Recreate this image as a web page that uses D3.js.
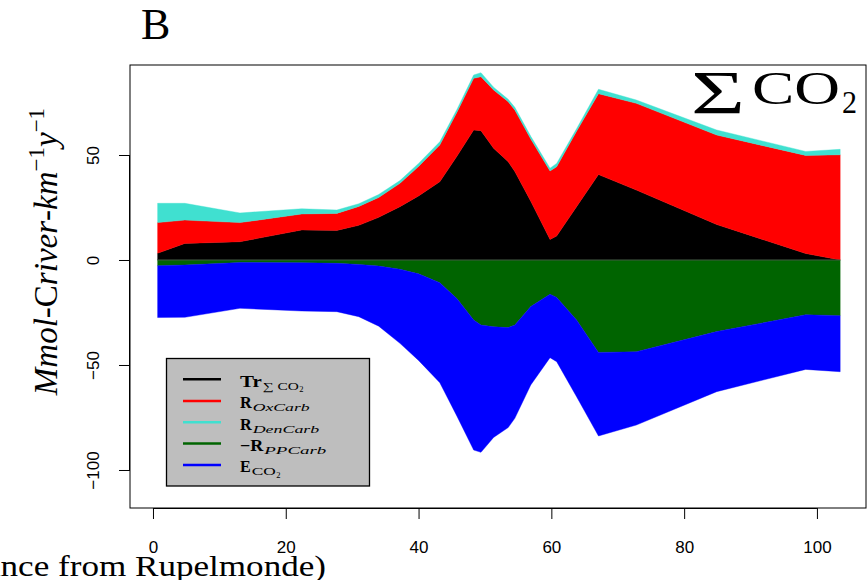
<!DOCTYPE html>
<html>
<head>
<meta charset="utf-8">
<script src="https://cdn.jsdelivr.net/npm/d3@7"></script>
<style>
  html, body { margin: 0; padding: 0; background: #fff; }
  svg { display: block; }
</style>
</head>
<body>
<svg id="chart" width="867" height="580"></svg>
<script>
// Distance from Rupelmonde (km)
const distance = [0.7, 4.8, 13.1, 22.4, 27.7, 31, 34, 37.2, 40, 43.2, 45.8, 48.3, 49.4, 51.3, 53.5, 54.5, 56.9, 59.8, 60.8, 63.8, 67.1, 72.8, 84.9, 98.3, 103.5];
// Tr_ΣCO2 (black)
const trSumCO2 = [3.2, 7.9, 8.7, 14.3, 14.1, 16.5, 20.3, 25.4, 30.5, 37.3, 49.5, 61.9, 61.6, 53.2, 46.8, 42.1, 28.0, 9.8, 11.4, 25.4, 40.7, 33.3, 16.9, 3.1, 0.0];
// R_OxCarb (red)
const rOxCarb = [14.6, 11.1, 9.1, 7.6, 8.1, 9.0, 9.5, 11.1, 14.0, 17.5, 21.0, 24.6, 25.7, 27.8, 28.6, 29.3, 29.6, 32.6, 33.0, 35.9, 38.5, 41.3, 42.6, 46.7, 50.1];
// R_DenCarb (turquoise)
const rDenCarb = [9.2, 8.0, 4.6, 2.5, 1.6, 1.3, 1.4, 1.3, 1.5, 1.5, 1.3, 1.6, 1.9, 1.3, 1.1, 1.3, 1.3, 1.3, 1.6, 1.2, 2.1, 1.6, 2.4, 1.9, 2.6];
// -R_PPCarb (dark green)
const rPPCarbNeg = [-2.7, -2.4, -1.2, -1.3, -1.6, -2.1, -2.9, -4.4, -6.6, -10.8, -18.5, -28.6, -31.0, -31.8, -32.2, -31.0, -22.2, -16.3, -17.8, -28.6, -44.0, -43.7, -34.1, -26.1, -26.5];
// E_CO2 (blue)
const eCO2 = [-24.7, -24.9, -21.8, -23.0, -23.0, -24.9, -28.6, -35.3, -41.2, -47.6, -56.0, -61.9, -60.6, -52.7, -47.6, -44.4, -37.3, -30.2, -30.6, -36.5, -39.8, -34.9, -28.6, -26.0, -26.7];

const xTicks = [0, 20, 40, 60, 80, 100];
const yTicks = [-100, -50, 0, 50];

const seriesKeys = ["tr", "ox", "den", "pp", "e"];
const seriesColors = {tr: "#000000", ox: "#ff0000", den: "#40e0d0", pp: "#006400", e: "#0000ff"};

const rows = distance.map((d, i) => ({
  x: d, tr: trSumCO2[i], ox: rOxCarb[i], den: rDenCarb[i], pp: rPPCarbNeg[i], e: eCO2[i]
}));

const svg = d3.select("#chart");
const frame = {left: 130, right: 866, top: 65, bottom: 508};

const x = d3.scaleLinear().domain([-3.46, 107.39]).range([frame.left, frame.right]);
const y = d3.scaleLinear().domain([-118.1, 92.86]).range([frame.bottom, frame.top]);

const stacked = d3.stack().keys(seriesKeys).offset(d3.stackOffsetDiverging)(rows);

const area = d3.area()
  .x(d => x(d.data.x))
  .y0(d => y(d[0]))
  .y1(d => y(d[1]))
  .curve(d3.curveLinear);

svg.append("g").selectAll("path")
  .data(stacked)
  .join("path")
  .attr("d", area)
  .attr("fill", s => seriesColors[s.key])
  .attr("stroke", s => seriesColors[s.key])
  .attr("stroke-width", 0.4);

// zero line
svg.append("line")
  .attr("x1", x(distance[0])).attr("x2", x(distance[distance.length - 1]))
  .attr("y1", y(0)).attr("y2", y(0))
  .attr("stroke", "#555").attr("stroke-width", 0.8);

// frame
svg.append("rect")
  .attr("x", frame.left).attr("y", frame.top)
  .attr("width", frame.right - frame.left).attr("height", frame.bottom - frame.top)
  .attr("fill", "none").attr("stroke", "#000").attr("stroke-width", 1);

// x axis
const xAxis = d3.axisBottom(x).tickValues(xTicks).tickSize(11).tickPadding(0).tickFormat(d3.format("d"));
const gx = svg.append("g").attr("transform", `translate(0,${frame.bottom})`).call(xAxis);
gx.select(".domain").attr("d", `M${x(0)},0.5H${x(100)}`).attr("stroke", "#000");
gx.selectAll(".tick line").attr("stroke", "#000");
gx.selectAll(".tick text")
  .attr("y", 45).attr("dy", null)
  .attr("font-family", "'Liberation Sans', Arial, sans-serif")
  .attr("font-size", 17).attr("fill", "#000");

// y axis
const yAxis = d3.axisLeft(y).tickValues(yTicks).tickSize(11).tickFormat(d => d < 0 ? "\u2212" + Math.abs(d) : d);
const gy = svg.append("g").attr("transform", `translate(${frame.left},0)`).call(yAxis);
gy.select(".domain").attr("d", `M-0.5,${y(-100)}V${y(50)}`).attr("stroke", "#000");
gy.selectAll(".tick line").attr("stroke", "#000");
gy.selectAll(".tick text")
  .attr("x", null).attr("dy", null)
  .attr("text-anchor", "middle")
  .attr("transform", "translate(-31.5,0) rotate(-90)")
  .attr("font-family", "'Liberation Sans', Arial, sans-serif")
  .attr("font-size", 17).attr("fill", "#000");

// title B
svg.append("text").attr("x", 141).attr("y", 39)
  .attr("font-family", "'Liberation Serif', 'Times New Roman', serif")
  .attr("font-size", 44).text("B");

// ΣCO2 label
const sumLab = svg.append("g").attr("font-family", "'Liberation Serif', 'Times New Roman', serif");
sumLab.append("text").attr("x", 691).attr("y", 112.5).attr("font-size", 62)
  .attr("textLength", 54).attr("lengthAdjust", "spacingAndGlyphs").text("\u03A3");
sumLab.append("text").attr("x", 752).attr("y", 103.5).attr("font-size", 46)
  .attr("textLength", 88).attr("lengthAdjust", "spacingAndGlyphs").text("CO");
sumLab.append("text").attr("x", 842).attr("y", 113).attr("font-size", 31)
  .attr("textLength", 15).attr("lengthAdjust", "spacingAndGlyphs").text("2");

// y axis label
const yl = svg.append("text")
  .attr("transform", "translate(57,251.5) rotate(-90)")
  .attr("text-anchor", "middle")
  .attr("font-family", "'Liberation Serif', 'Times New Roman', serif")
  .attr("font-size", 33);
yl.append("tspan").attr("font-style", "italic").text("Mmol");
yl.append("tspan").text("-C");
yl.append("tspan").attr("font-style", "italic").text("river");
yl.append("tspan").text("-");
yl.append("tspan").attr("font-style", "italic").text("km");
yl.append("tspan").attr("font-size", 23).attr("dy", -13).text("\u22121");
yl.append("tspan").attr("font-style", "italic").attr("dy", 13).text("y");
yl.append("tspan").attr("font-size", 23).attr("dy", -13).text("\u22121");

// x axis label (its start runs off the left edge, as in the original)
svg.append("text")
  .attr("x", -131).attr("y", 576)
  .attr("textLength", 457).attr("lengthAdjust", "spacingAndGlyphs")
  .attr("font-family", "'Liberation Serif', 'Times New Roman', serif")
  .attr("font-size", 30)
  .text("(km distance from Rupelmonde)");

// legend
const legendItems = [
  {key: "tr", main: "Tr", mainW: 21.7, sub: "\u2211 CO", subW: 36, subsub: "2", subItalic: false},
  {key: "ox", main: "R", mainW: 11.7, sub: "OxCarb", subW: 57, subItalic: true},
  {key: "den", main: "R", mainW: 11.7, sub: "DenCarb", subW: 66.6, subItalic: true},
  {key: "pp", main: "\u2212R", mainW: 23.3, sub: "PPCarb", subW: 62, subItalic: true},
  {key: "e", main: "E", mainW: 10.7, sub: "CO", subW: 24, subsub: "2", subItalic: false}
];
const lg = svg.append("g");
lg.append("rect").attr("x", 166.5).attr("y", 358.5).attr("width", 203).attr("height", 127.5)
  .attr("fill", "#bebebe").attr("stroke", "#000").attr("stroke-width", 1.3);
const rowY = [379.3, 401, 422.3, 443.6, 465];
legendItems.forEach((it, i) => {
  lg.append("line").attr("x1", 183).attr("x2", 221).attr("y1", rowY[i]).attr("y2", rowY[i])
    .attr("stroke", seriesColors[it.key]).attr("stroke-width", 2.5);
  const g = lg.append("g").attr("font-family", "'Liberation Serif', 'Times New Roman', serif");
  const base = rowY[i] + 7.2;
  g.append("text").attr("x", 240).attr("y", base).attr("font-size", 16).attr("font-weight", "bold")
    .attr("textLength", it.mainW).attr("lengthAdjust", "spacingAndGlyphs").text(it.main);
  const sx = 240 + it.mainW + 1;
  g.append("text").attr("x", sx).attr("y", base + 3).attr("font-size", 11)
    .attr("font-style", it.subItalic ? "italic" : "normal")
    .attr("textLength", it.subW).attr("lengthAdjust", "spacingAndGlyphs").text(it.sub);
  if (it.subsub) {
    g.append("text").attr("x", sx + it.subW + 0.5).attr("y", base + 5.5).attr("font-size", 8.5).text(it.subsub);
  }
});
</script>
</body>
</html>
